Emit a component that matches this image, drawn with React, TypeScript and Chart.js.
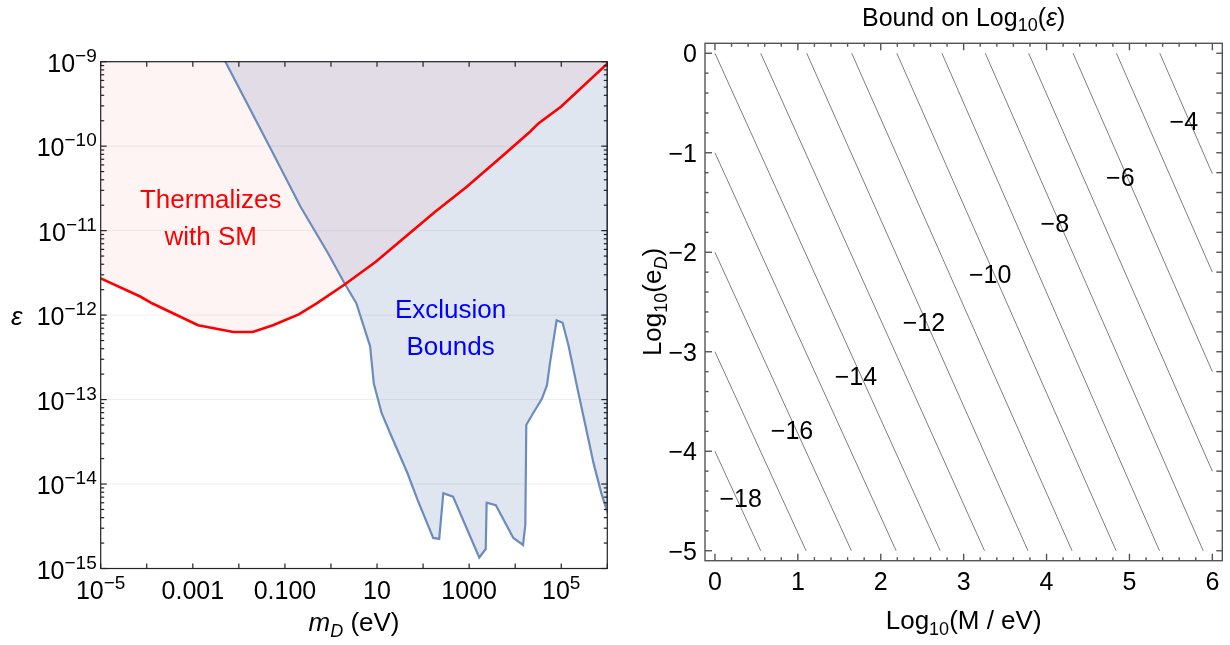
import { useEffect, useRef } from 'react';
import { Chart, registerables } from 'chart.js';

Chart.register(...registerables);

// ---------------- Left panel data (m_D in eV, epsilon) ----------------
const thermalMass = [1e-5, 7.2e-5, 1.3e-4, 1.3e-3, 7.6e-3, 0.02, 0.055, 0.2, 0.49, 1.95, 9.4, 46, 180, 890, 5200, 21000, 32000, 100000, 1e6];
const thermalEps = [2.72e-12, 1.66e-12, 1.38e-12, 7.6e-13, 6.3e-13, 6.3e-13, 7.6e-13, 1.02e-12, 1.38e-12, 2.29e-12, 4.27e-12, 8.9e-12, 1.66e-11, 3.3e-11, 7.6e-11, 1.48e-10, 1.86e-10, 2.95e-10, 9.5e-10];

const exclusionMass = [5.1e-3, 4.6e-2, 0.22, 0.87, 1.95, 3.55, 7.08, 8.51, 12.6, 20.9, 45.7, 75.9, 166, 224, 275, 447, 1660, 2290, 2400, 3800, 9120, 14800, 16600, 17400, 23400, 38000, 49000, 56200, 66100, 79400, 107000, 145000, 229000, 339000, 501000, 741000, 1e6, 1e6];
const exclusionEps = [1e-9, 1e-10, 1.9e-11, 5.37e-12, 2.4e-12, 1.38e-12, 4.27e-13, 1.55e-13, 6.9e-14, 3.6e-14, 1.35e-14, 6.5e-15, 2.3e-15, 2.24e-15, 7.8e-15, 7.1e-15, 1.35e-15, 1.7e-15, 6.0e-15, 5.6e-15, 2.3e-15, 1.9e-15, 3.3e-15, 5.0e-14, 6.6e-14, 1.02e-13, 1.48e-13, 2.57e-13, 4.6e-13, 8.7e-13, 8.1e-13, 4.27e-13, 1.29e-13, 4.8e-14, 1.78e-14, 7.8e-15, 4.7e-15, 1e-9];

const massTickValues = [1e-5, 1e-3, 1e-1, 1e1, 1e3, 1e5];
const massTickLabels = ['10^-5', '0.001', '0.100', '10', '1000', '10^5'];
const massDecades = [1e-5, 1e-4, 1e-3, 1e-2, 1e-1, 1, 10, 100, 1e3, 1e4, 1e5, 1e6];
const epsTickValues = [1e-15, 1e-14, 1e-13, 1e-12, 1e-11, 1e-10, 1e-9];
const epsTickLabels = ['10^-15', '10^-14', '10^-13', '10^-12', '10^-11', '10^-10', '10^-9'];

const regionLabels = ['Thermalizes', 'with SM', 'Exclusion', 'Bounds'];
const regionLabelColors = ['#ff0000', '#ff0000', '#0000ff', '#0000ff'];
const regionLabelMass = [2.45e-3, 2.45e-3, 395, 395];
const regionLabelEps = [1.84e-11, 6.8e-12, 9.2e-13, 3.4e-13];

// ---------------- Right panel data (Log10 M, Log10 e_D) ----------------
const contourLevels = [-18, -17, -16, -15, -14, -13, -12, -11, -10, -9, -8, -7, -6, -5, -4];
const contourStartX = [0, 0, 0, 0, 0, 0.552, 1.107, 1.65, 2.194, 2.738, 3.261, 3.784, 4.32, 4.843, 5.366];
const contourStartY = [-4, -3, -2, -1, 0, 0, 0, 0, 0, 0, 0, 0, 0, 0, 0];
const contourEndX = [0.552, 1.099, 1.646, 2.186, 2.717, 3.252, 3.776, 4.308, 4.839, 5.362, 5.89, 6, 6, 6, 6];
const contourEndY = [-5, -5, -5, -5, -5, -5, -5, -5, -5, -5, -5, -4.2, -3.2, -2.2, -1.21];

const contourLabelText = ['\u221218', '\u221216', '\u221214', '\u221212', '\u221210', '\u22128', '\u22126', '\u22124'];
const contourLabelX = [0.31, 0.93, 1.7, 2.52, 3.32, 4.1, 4.89, 5.656];
const contourLabelY = [-4.49, -3.81, -3.26, -2.72, -2.24, -1.73, -1.265, -0.705];

const logMassTicks = [0, 1, 2, 3, 4, 5, 6];
const logMassTickLabels = ['0', '1', '2', '3', '4', '5', '6'];
const logCouplingTicks = [0, -1, -2, -3, -4, -5];
const logCouplingTickLabels = ['0', '\u22121', '\u22122', '\u22123', '\u22124', '\u22125'];

// ---------------- helpers ----------------
type Seg = { t: string; f: string; dy?: number };
const FONT = '"Liberation Sans", Arial, Helvetica, sans-serif';
const F = (size: number, style = '') => `${style} ${size}px ${FONT}`.trim();

function drawSegs(ctx: CanvasRenderingContext2D, segs: Seg[], x: number, y: number, align: 'left' | 'center' | 'right') {
  const widths = segs.map((s) => {
    ctx.font = s.f;
    return ctx.measureText(s.t).width;
  });
  const total = widths.reduce((a, b) => a + b, 0);
  let cx = align === 'left' ? x : align === 'center' ? x - total / 2 : x - total;
  ctx.textAlign = 'left';
  ctx.textBaseline = 'alphabetic';
  segs.forEach((s, i) => {
    ctx.font = s.f;
    ctx.fillText(s.t, cx, y + (s.dy || 0));
    cx += widths[i];
  });
}

function tickSegs(label: string): Seg[] {
  const i = label.indexOf('^');
  if (i < 0) return [{ t: label, f: F(25) }];
  return [
    { t: label.slice(0, i), f: F(25) },
    { t: label.slice(i + 1).replace('-', '\u2212'), f: F(19), dy: -10 },
  ];
}

function seg(ctx: CanvasRenderingContext2D, x1: number, y1: number, x2: number, y2: number) {
  ctx.beginPath();
  ctx.moveTo(x1, y1);
  ctx.lineTo(x2, y2);
  ctx.stroke();
}

const leftDecor = {
  id: 'leftDecor',
  beforeDatasetsDraw(chart: any) {
    const { ctx, chartArea: a } = chart;
    const y = chart.scales.y;
    ctx.save();
    ctx.strokeStyle = 'rgba(0,0,0,0.07)';
    ctx.lineWidth = 1;
    epsTickValues.forEach((v) => {
      const py = y.getPixelForValue(v);
      seg(ctx, a.left, py, a.right, py);
    });
    ctx.restore();
  },
  afterDatasetsDraw(chart: any) {
    const { ctx, chartArea: a } = chart;
    const x = chart.scales.x;
    const y = chart.scales.y;
    ctx.save();
    ctx.strokeStyle = '#222';
    ctx.lineWidth = 1.2;
    ctx.strokeRect(a.left, a.top, a.right - a.left, a.bottom - a.top);
    massDecades.forEach((v) => {
      const px = x.getPixelForValue(v);
      seg(ctx, px, a.bottom, px, a.bottom - 5);
      seg(ctx, px, a.top, px, a.top + 5);
    });
    epsTickValues.forEach((v, idx) => {
      const py = y.getPixelForValue(v);
      seg(ctx, a.left, py, a.left + 6, py);
      seg(ctx, a.right, py, a.right - 6, py);
      if (idx < epsTickValues.length - 1) {
        for (let k = 2; k <= 9; k++) {
          const pm = y.getPixelForValue(v * k);
          seg(ctx, a.left, pm, a.left + 3.5, pm);
          seg(ctx, a.right, pm, a.right - 3.5, pm);
        }
      }
    });
    ctx.fillStyle = '#000';
    massTickValues.forEach((v, i) => {
      drawSegs(ctx, tickSegs(massTickLabels[i]), x.getPixelForValue(v), a.bottom + 30, 'center');
    });
    epsTickValues.forEach((v, i) => {
      drawSegs(ctx, tickSegs(epsTickLabels[i]), a.left - 4, y.getPixelForValue(v) + 10, 'right');
    });
    drawSegs(
      ctx,
      [
        { t: 'm', f: F(26, 'italic') },
        { t: 'D', f: F(18, 'italic'), dy: 6 },
        { t: ' (eV)', f: F(26) },
      ],
      (a.left + a.right) / 2,
      a.bottom + 62.5,
      'center'
    );
    drawSegs(ctx, [{ t: '\u03b5', f: F(26, 'italic') }], 16.7, (a.top + a.bottom) / 2 + 10, 'center');
    regionLabels.forEach((t, i) => {
      ctx.fillStyle = regionLabelColors[i];
      drawSegs(ctx, [{ t, f: F(26) }], x.getPixelForValue(regionLabelMass[i]), y.getPixelForValue(regionLabelEps[i]), 'center');
    });
    ctx.restore();
  },
};

const rightDecor = {
  id: 'rightDecor',
  afterDatasetsDraw(chart: any) {
    const { ctx, chartArea: a } = chart;
    const x = chart.scales.x;
    const y = chart.scales.y;
    ctx.save();
    ctx.strokeStyle = '#555';
    ctx.lineWidth = 1.4;
    ctx.strokeRect(a.left, a.top, a.right - a.left, a.bottom - a.top);
    for (let i = 0; i <= 30; i++) {
      const v = i * 0.2;
      const len = i % 5 === 0 ? 7 : 3.5;
      const px = x.getPixelForValue(v);
      seg(ctx, px, a.bottom, px, a.bottom - len);
      seg(ctx, px, a.top, px, a.top + len);
    }
    for (let i = 0; i <= 25; i++) {
      const v = -i * 0.2;
      const len = i % 5 === 0 ? 7 : 3.5;
      const py = y.getPixelForValue(v);
      seg(ctx, a.left, py, a.left + len, py);
      seg(ctx, a.right, py, a.right - 6, py);
    }
    ctx.fillStyle = '#000';
    logMassTicks.forEach((v, i) => {
      drawSegs(ctx, [{ t: logMassTickLabels[i], f: F(25) }], x.getPixelForValue(v), a.bottom + 29.3, 'center');
    });
    logCouplingTicks.forEach((v, i) => {
      drawSegs(ctx, [{ t: logCouplingTickLabels[i], f: F(25) }], a.left - 8, y.getPixelForValue(v) + 9, 'right');
    });
    ctx.textAlign = 'center';
    ctx.textBaseline = 'middle';
    ctx.font = F(25);
    contourLabelText.forEach((t, i) => {
      ctx.fillText(t, x.getPixelForValue(contourLabelX[i]), y.getPixelForValue(contourLabelY[i]));
    });
    drawSegs(
      ctx,
      [
        { t: 'Bound on Log', f: F(25) },
        { t: '10', f: F(18), dy: 5 },
        { t: '(', f: F(25) },
        { t: '\u03b5', f: F(25, 'italic') },
        { t: ')', f: F(25) },
      ],
      (a.left + a.right) / 2,
      a.top - 17.3,
      'center'
    );
    drawSegs(
      ctx,
      [
        { t: 'Log', f: F(26) },
        { t: '10', f: F(18), dy: 6 },
        { t: '(M / eV)', f: F(26) },
      ],
      (a.left + a.right) / 2,
      a.bottom + 68.3,
      'center'
    );
    ctx.translate(a.left - 44, (a.top + a.bottom) / 2);
    ctx.rotate(-Math.PI / 2);
    drawSegs(
      ctx,
      [
        { t: 'Log', f: F(26) },
        { t: '10', f: F(18), dy: 6 },
        { t: '(e', f: F(26) },
        { t: 'D', f: F(18, 'italic'), dy: 6 },
        { t: ')', f: F(26) },
      ],
      0,
      0,
      'center'
    );
    ctx.restore();
  },
};

export default function App() {
  const leftRef = useRef<HTMLCanvasElement>(null);
  const rightRef = useRef<HTMLCanvasElement>(null);

  useEffect(() => {
    const thermalPoints = thermalMass.map((m, i) => ({ x: m, y: thermalEps[i] }));
    const exclusionPoints = exclusionMass.map((m, i) => ({ x: m, y: exclusionEps[i] }));

    const left = new Chart(leftRef.current as HTMLCanvasElement, {
      type: 'line',
      data: {
        datasets: [
          {
            label: 'Thermalizes with SM',
            data: thermalPoints,
            borderColor: '#ff0000',
            borderWidth: 2.6,
            backgroundColor: 'rgba(255,0,0,0.045)',
            fill: 'end',
            pointRadius: 0,
            tension: 0,
          },
          {
            label: 'Exclusion Bounds',
            data: exclusionPoints,
            borderColor: 'rgb(108,140,190)',
            borderWidth: 2.2,
            backgroundColor: 'rgba(94,129,181,0.2)',
            fill: 'end',
            pointRadius: 0,
            tension: 0,
          },
        ],
      } as any,
      options: {
        animation: false,
        responsive: false,
        layout: { padding: { left: 100.7, top: 61.7, right: 32.7, bottom: 76.5 } },
        scales: {
          x: { type: 'logarithmic', display: false, min: 1e-5, max: 1e6 },
          y: { type: 'logarithmic', display: false, min: 1e-15, max: 1e-9 },
        },
        plugins: {
          legend: { display: false },
          tooltip: { enabled: false },
          filler: { drawTime: 'beforeDatasetsDraw' },
        },
      } as any,
      plugins: [leftDecor as any],
    });

    const right = new Chart(rightRef.current as HTMLCanvasElement, {
      type: 'line',
      data: {
        datasets: contourLevels.map((lvl, i) => ({
          label: String(lvl),
          data: [
            { x: contourStartX[i], y: contourStartY[i] },
            { x: contourEndX[i], y: contourEndY[i] },
          ],
          borderColor: 'rgb(125,125,125)',
          borderWidth: 1,
          pointRadius: 0,
          fill: false,
        })),
      } as any,
      options: {
        animation: false,
        responsive: false,
        layout: { padding: { left: 65, top: 43.3, right: 7.7, bottom: 84.3 } },
        scales: {
          x: { type: 'linear', display: false, min: -0.12, max: 6.12 },
          y: { type: 'linear', display: false, min: -5.1, max: 0.1 },
        },
        plugins: { legend: { display: false }, tooltip: { enabled: false } },
      } as any,
      plugins: [rightDecor as any],
    });

    return () => {
      left.destroy();
      right.destroy();
    };
  }, []);

  return (
    <div style={{ position: 'absolute', left: 0, top: 0, width: 1230, height: 645, background: '#ffffff' }}>
      <canvas ref={leftRef} width={640} height={645} style={{ position: 'absolute', left: 0, top: 0, width: 640, height: 645 }} />
      <canvas ref={rightRef} width={590} height={645} style={{ position: 'absolute', left: 640, top: 0, width: 590, height: 645 }} />
    </div>
  );
}
